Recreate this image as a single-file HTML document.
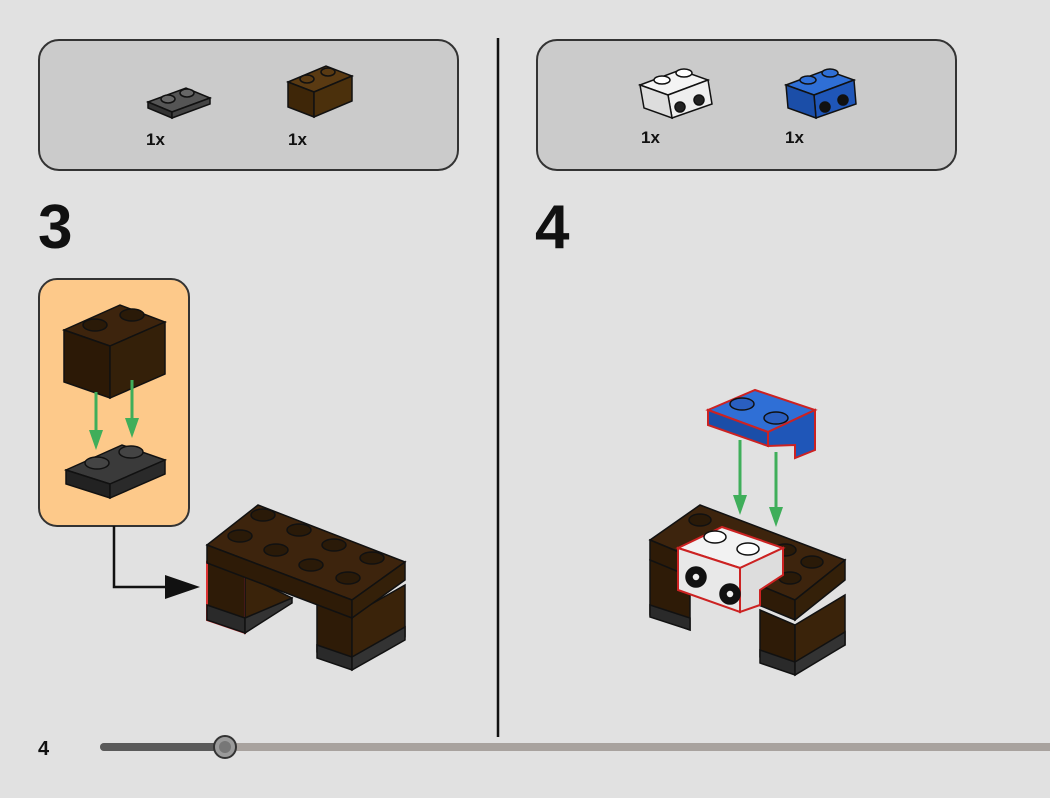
<!DOCTYPE html>
<html><head><style>
body{margin:0;width:1050px;height:793px;background:#e1e1e1;overflow:hidden;font-family:"Liberation Sans",sans-serif;}
</style></head><body>
<svg width="1050" height="793" viewBox="0 0 1050 793" xmlns="http://www.w3.org/2000/svg">
<rect x="0" y="0" width="1050" height="793" fill="#e1e1e1"/>
<!-- parts boxes -->
<rect x="39" y="40" width="419" height="130" rx="20" fill="#cbcbcb" stroke="#333" stroke-width="2"/>
<rect x="537" y="40" width="419" height="130" rx="20" fill="#cbcbcb" stroke="#333" stroke-width="2"/>
<line x1="498" y1="38" x2="498" y2="737" stroke="#111" stroke-width="2.5"/>
<!-- part icons left -->
<g stroke="#111" stroke-width="1.5">
<polygon points="148,102 186,88 210,98 172,112" fill="#555"/>
<polygon points="148,102 172,112 172,118 148,108" fill="#333"/>
<polygon points="172,112 210,98 210,104 172,118" fill="#444"/>
<ellipse cx="168" cy="99" rx="7" ry="4" fill="#666"/><ellipse cx="187" cy="93" rx="7" ry="4" fill="#666"/>
<polygon points="288,82 326,66 352,76 314,92" fill="#5a3a12"/>
<polygon points="288,82 314,92 314,117 288,107" fill="#3e2608"/>
<polygon points="314,92 352,76 352,101 314,117" fill="#4b300c"/>
<ellipse cx="307" cy="79" rx="7" ry="4" fill="#5a3a12"/><ellipse cx="328" cy="72" rx="7" ry="4" fill="#5a3a12"/>
<!-- right parts -->
<polygon points="640,85 680,70 708,80 668,95" fill="#f4f4f4"/>
<polygon points="668,95 708,80 712,104 672,118" fill="#eee"/>
<polygon points="640,85 668,95 672,118 644,108" fill="#ddd"/>
<ellipse cx="662" cy="80" rx="8" ry="4" fill="#fff"/><ellipse cx="684" cy="73" rx="8" ry="4" fill="#fff"/>
<circle cx="680" cy="107" r="5" fill="#222"/><circle cx="699" cy="100" r="5" fill="#222"/>
<polygon points="786,85 826,70 854,80 814,95" fill="#2f6fd6"/>
<polygon points="814,95 854,80 856,104 816,118" fill="#1f56b8"/>
<polygon points="786,85 814,95 816,118 788,108" fill="#1b4ea8"/>
<ellipse cx="808" cy="80" rx="8" ry="4" fill="#2f6fd6"/><ellipse cx="830" cy="73" rx="8" ry="4" fill="#2f6fd6"/>
<circle cx="825" cy="107" r="5" fill="#111"/><circle cx="843" cy="100" r="5" fill="#111"/>
</g>
<g font-weight="bold" font-size="17" fill="#111">
<text x="146" y="145">1x</text><text x="288" y="145">1x</text>
<text x="641" y="143">1x</text><text x="785" y="143">1x</text>
</g>
<text x="38" y="248" font-size="62" font-weight="bold" fill="#111">3</text>
<text x="535" y="248" font-size="62" font-weight="bold" fill="#111">4</text>
<!-- callout -->
<rect x="39" y="279" width="150" height="247" rx="18" fill="#fdc98a" stroke="#333" stroke-width="2"/>
<g stroke="#111" stroke-width="1.5">
<polygon points="64,330 120,305 165,322 110,346" fill="#3d240d"/>
<polygon points="64,330 110,346 110,398 64,382" fill="#2c1906"/>
<polygon points="110,346 165,322 165,374 110,398" fill="#342009"/>
<ellipse cx="95" cy="325" rx="12" ry="6" fill="#2a1a08"/><ellipse cx="132" cy="315" rx="12" ry="6" fill="#2a1a08"/>
<polygon points="66,470 122,445 165,460 110,484" fill="#3a3a3a"/>
<polygon points="66,470 110,484 110,498 66,484" fill="#222"/>
<polygon points="110,484 165,460 165,474 110,498" fill="#2a2a2a"/>
<ellipse cx="97" cy="463" rx="12" ry="6" fill="#444"/><ellipse cx="131" cy="452" rx="12" ry="6" fill="#444"/>
</g>
<g stroke="#3fae5a" stroke-width="3" fill="#3fae5a">
<line x1="96" y1="392" x2="96" y2="440"/><polygon points="89,430 103,430 96,450" stroke="none"/>
<line x1="132" y1="380" x2="132" y2="428"/><polygon points="125,418 139,418 132,438" stroke="none"/>
</g>
<polyline points="114,526 114,587 185,587" fill="none" stroke="#111" stroke-width="2.5"/>
<polygon points="165,575 200,587 165,599" fill="#111"/>
<!-- left model -->
<g stroke="#111" stroke-width="1.5">
<polygon points="207,562 245,575 245,633 207,620" fill="#2e1b07" stroke="#d33" stroke-width="2"/>
<polygon points="245,575 292,598 245,633" fill="#3a230a"/>
<polygon points="207,605 245,618 245,633 207,620" fill="#2a2a2a"/>
<polygon points="245,618 292,598 292,603 245,633" fill="#333"/>
<polygon points="317,600 352,615 352,667 317,652" fill="#2e1b07"/>
<polygon points="352,615 405,585 405,637 352,667" fill="#3a230a"/>
<polygon points="317,645 352,657 352,670 317,658" fill="#2a2a2a"/>
<polygon points="352,657 405,627 405,640 352,670" fill="#333"/>
<polygon points="207,545 258,505 405,562 352,600" fill="#3d240d"/>
<polygon points="207,545 352,600 352,618 207,563" fill="#2e1b07"/>
<polygon points="352,600 405,562 405,580 352,618" fill="#342009"/>
<g fill="#2a1a08">
<ellipse cx="263" cy="515" rx="12" ry="6"/><ellipse cx="299" cy="530" rx="12" ry="6"/><ellipse cx="334" cy="545" rx="12" ry="6"/><ellipse cx="372" cy="558" rx="12" ry="6"/>
<ellipse cx="240" cy="536" rx="12" ry="6"/><ellipse cx="276" cy="550" rx="12" ry="6"/><ellipse cx="311" cy="565" rx="12" ry="6"/><ellipse cx="348" cy="578" rx="12" ry="6"/>
</g>
</g>
<!-- right model -->
<g stroke="#111" stroke-width="1.5">
<polygon points="650,560 690,575 690,630 650,615" fill="#2e1b07"/>
<polygon points="650,605 690,618 690,630 650,617" fill="#2a2a2a"/>
<polygon points="760,610 795,625 795,672 760,657" fill="#2e1b07"/>
<polygon points="795,625 845,595 845,645 795,672" fill="#3a230a"/>
<polygon points="760,650 795,662 795,675 760,663" fill="#2a2a2a"/>
<polygon points="795,662 845,632 845,645 795,675" fill="#333"/>
<polygon points="650,540 700,505 845,560 795,600" fill="#3d240d"/>
<polygon points="650,540 795,600 795,620 650,560" fill="#2e1b07"/>
<polygon points="795,600 845,560 845,580 795,620" fill="#342009"/>
<g fill="#2a1a08"><ellipse cx="700" cy="520" rx="11" ry="6"/><ellipse cx="785" cy="550" rx="11" ry="6"/><ellipse cx="812" cy="562" rx="11" ry="6"/><ellipse cx="790" cy="578" rx="11" ry="6"/></g>
<polygon points="678,548 722,527 783,548 740,568" fill="#f2f2f2" stroke="#c22" stroke-width="2"/>
<polygon points="678,548 740,568 740,612 678,590" fill="#e8e8e8" stroke="#c22" stroke-width="2"/>
<polygon points="740,568 783,548 783,575 760,590 760,605 740,612" fill="#ddd" stroke="#c22" stroke-width="2"/>
<ellipse cx="715" cy="537" rx="11" ry="6" fill="#fff"/><ellipse cx="748" cy="549" rx="11" ry="6" fill="#fff"/>
<circle cx="696" cy="577" r="10" fill="#111"/><circle cx="696" cy="577" r="4" fill="#eee"/>
<circle cx="730" cy="594" r="10" fill="#111"/><circle cx="730" cy="594" r="4" fill="#eee"/>
<polygon points="708,410 755,390 815,410 768,432" fill="#2f6fd6" stroke="#c22" stroke-width="2"/>
<polygon points="708,410 768,432 768,446 708,425" fill="#1b4ea8" stroke="#c22" stroke-width="2"/>
<polygon points="768,432 815,410 815,450 795,458 795,445 768,446" fill="#1f56b8" stroke="#c22" stroke-width="2"/>
<ellipse cx="742" cy="404" rx="12" ry="6" fill="#2a5fc0"/><ellipse cx="776" cy="418" rx="12" ry="6" fill="#2a5fc0"/>
</g>
<g stroke="#3fae5a" stroke-width="3" fill="#3fae5a">
<line x1="740" y1="440" x2="740" y2="505"/><polygon points="733,495 747,495 740,515" stroke="none"/>
<line x1="776" y1="452" x2="776" y2="517"/><polygon points="769,507 783,507 776,527" stroke="none"/>
</g>
<!-- footer -->
<text x="38" y="755" font-size="20" font-weight="bold" fill="#111">4</text>
<line x1="104" y1="747" x2="1050" y2="747" stroke="#a8a29e" stroke-width="8" stroke-linecap="round"/>
<line x1="104" y1="747" x2="225" y2="747" stroke="#5a5a5a" stroke-width="8" stroke-linecap="round"/>
<circle cx="225" cy="747" r="11" fill="#9a9a9a" stroke="#333" stroke-width="2"/>
<circle cx="225" cy="747" r="6" fill="#777"/>
</svg>
</body></html>
